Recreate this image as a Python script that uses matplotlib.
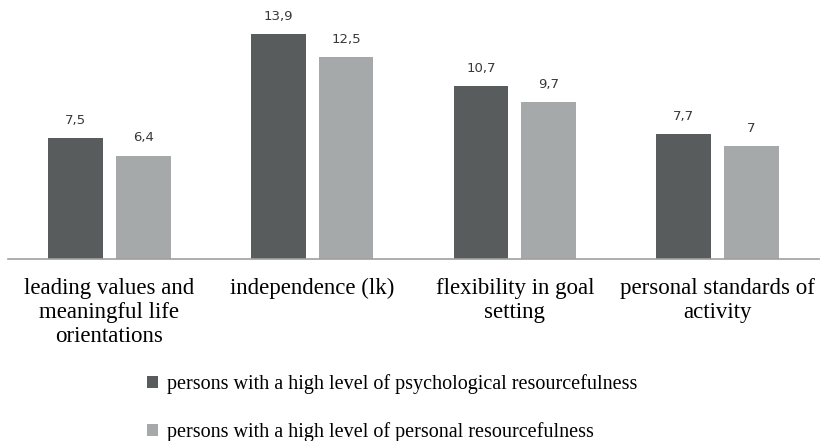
import matplotlib
matplotlib.use("Agg")
import matplotlib.pyplot as plt
import numpy as np

categories = ["leading values and\nmeaningful life\norientations",
              "independence (lk)",
              "flexibility in goal\nsetting",
              "personal standards of\nactivity"]
series_names = ["persons with a high level of psychological resourcefulness",
                "persons with a high level of personal resourcefulness"]
psych = [7.5, 13.9, 10.7, 7.7]
personal = [6.4, 12.5, 9.7, 7.0]
psych_labels = ["7,5", "13,9", "10,7", "7,7"]
personal_labels = ["6,4", "12,5", "9,7", "7"]

dark = "#585c5c"
light = "#a6a9a9"

W, H = 821, 441
fig = plt.figure(figsize=(W/100, H/100), dpi=100)
base_px = 259
top_ylim = 15.0
scale = 16.17
top_px = base_px - top_ylim*scale
ax = fig.add_axes([8/W, 1 - base_px/H, (819-8)/W, (base_px - top_px)/H])

x = np.arange(len(categories))
bw = 0.271
off = 0.167
b1 = ax.bar(x - off, psych, bw, color=dark, label=series_names[0])
b2 = ax.bar(x + off, personal, bw, color=light, label=series_names[1])

for bars, labs in ((b1, psych_labels), (b2, personal_labels)):
    for rect, lab in zip(bars, labs):
        ax.annotate(lab, (rect.get_x() + rect.get_width()/2, rect.get_height()),
                    xytext=(0, 8), textcoords="offset points", ha="center", va="bottom",
                    fontsize=9.5, color="#383838", family="DejaVu Sans")

ax.set_xlim(-0.5, len(categories) - 0.5)
ax.set_ylim(0, top_ylim)
for s in ["left", "right", "top"]:
    ax.spines[s].set_visible(False)
ax.spines["bottom"].set_color("#a0a0a0")
ax.spines["bottom"].set_linewidth(1.2)
ax.set_yticks([])
ax.set_xticks(x)
ax.set_xticklabels(categories, family="Liberation Serif", fontsize=16.5, linespacing=1.2)
ax.tick_params(axis="x", length=0, pad=13.5)

fig.legend(handles=[b1, b2], labels=series_names, loc="upper left",
           bbox_to_anchor=(147/W, 1 - 374/H), frameon=False,
           prop={"family": "Liberation Serif", "size": 14.5},
           handlelength=0.55, handleheight=0.55, handletextpad=0.45,
           labelspacing=1.4, borderpad=0, borderaxespad=0)

fig.savefig("out.png", dpi=100)
